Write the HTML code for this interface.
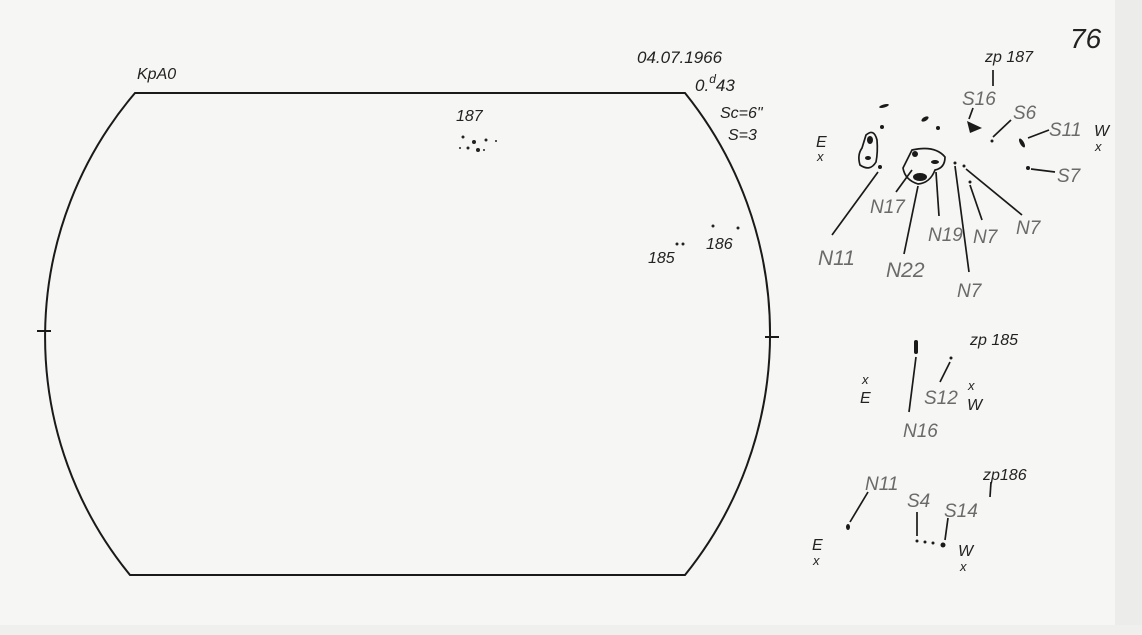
<!DOCTYPE html>
<html><head><style>
html,body{margin:0;padding:0;background:#f6f6f4}
svg{display:block}
text{font-family:"Liberation Sans",sans-serif;font-style:italic}
.k{fill:#222}
.g{fill:#6a6a6a}
</style></head><body>
<svg width="1142" height="635" viewBox="0 0 1142 635">
<rect width="1142" height="635" fill="#f6f6f4"/>
<rect x="1115" y="0" width="27" height="635" fill="#ececea"/>
<rect x="0" y="625" width="1142" height="10" fill="#efefed"/>
<g stroke="#1a1a1a" stroke-width="2" fill="none">
<path d="M135 93 L685 93 A384 384 0 0 1 685 575 L130 575 A376 376 0 0 1 135 93 Z"/>
<line x1="37" y1="331" x2="51" y2="331"/>
<line x1="765" y1="337" x2="779" y2="337"/>
</g>
<text x="137" y="79" class="k" font-size="16">KpA0</text>
<text x="637" y="63" class="k" font-size="17">04.07.1966</text>
<text x="695" y="91" class="k" font-size="17">0.<tspan dy="-8" font-size="12">d</tspan><tspan dy="8">43</tspan></text>
<text x="720" y="118" class="k" font-size="16">Sc=6"</text>
<text x="728" y="140" class="k" font-size="16">S=3</text>
<text x="1070" y="48" class="k" font-size="28" font-style="normal">76</text>
<text x="456" y="121" class="k" font-size="16">187</text>
<text x="648" y="263" class="k" font-size="16">185</text>
<text x="706" y="249" class="k" font-size="16">186</text>
<g fill="#222">
<circle cx="463" cy="137" r="1.5"/><circle cx="474" cy="142" r="2"/><circle cx="468" cy="148" r="1.5"/><circle cx="478" cy="150" r="2"/><circle cx="486" cy="140" r="1.5"/><circle cx="496" cy="141" r="1"/><circle cx="460" cy="148" r="1"/><circle cx="484" cy="150" r="1"/>
<circle cx="677" cy="244" r="1.5"/><circle cx="683" cy="244" r="1.5"/><circle cx="713" cy="226" r="1.5"/><circle cx="738" cy="228" r="1.5"/>
</g>
<g fill="#1a1a1a">
<ellipse cx="884" cy="106" rx="5" ry="1.5" transform="rotate(-15 884 106)"/>
<ellipse cx="925" cy="119" rx="4" ry="2" transform="rotate(-30 925 119)"/>
<circle cx="882" cy="127" r="2"/><circle cx="938" cy="128" r="2"/>
<polygon points="967,121 982,128 970,133"/>
<circle cx="992" cy="141" r="1.5"/>
<ellipse cx="1022" cy="143" rx="2" ry="5" transform="rotate(-30 1022 143)"/>
<circle cx="1028" cy="168" r="2"/>
<circle cx="880" cy="167" r="2"/>
<ellipse cx="870" cy="140" rx="3" ry="4"/><ellipse cx="868" cy="158" rx="3" ry="2"/>
<ellipse cx="915" cy="154" rx="3" ry="3"/><ellipse cx="935" cy="162" rx="4" ry="2"/>
<ellipse cx="920" cy="177" rx="7" ry="4"/>
<circle cx="955" cy="163" r="1.5"/><circle cx="964" cy="166" r="1.5"/><circle cx="970" cy="182" r="1.5"/>
</g>
<g stroke="#1a1a1a" stroke-width="1.7" fill="none">
<path d="M866 135 Q874 128 877 140 Q878 152 876 162 Q870 172 860 165 Q857 155 862 148 Z"/>
<path d="M912 150 Q935 145 945 157 Q945 168 935 170 Q930 183 918 184 Q905 180 903 168 Z"/>
<line x1="993" y1="70" x2="993" y2="86"/>
<line x1="973" y1="108" x2="969" y2="119"/>
<line x1="993" y1="137" x2="1011" y2="120"/>
<line x1="1028" y1="138" x2="1049" y2="130"/>
<line x1="1031" y1="169" x2="1055" y2="172"/>
<line x1="878" y1="172" x2="832" y2="235"/>
<line x1="912" y1="170" x2="896" y2="192"/>
<line x1="918" y1="186" x2="904" y2="254"/>
<line x1="936" y1="172" x2="939" y2="216"/>
<line x1="955" y1="166" x2="969" y2="272"/>
<line x1="970" y1="185" x2="982" y2="220"/>
<line x1="966" y1="169" x2="1022" y2="215"/>
</g>
<g class="g" font-size="19">
<text x="962" y="105">S16</text>
<text x="1013" y="119">S6</text>
<text x="1049" y="136">S11</text>
<text x="1057" y="182">S7</text>
<text x="870" y="213">N17</text>
<text x="928" y="241">N19</text>
<text x="973" y="243">N7</text>
<text x="1016" y="234">N7</text>
<text x="818" y="265" font-size="21">N11</text>
<text x="886" y="277" font-size="21">N22</text>
<text x="957" y="297">N7</text>
<text x="924" y="404">S12</text>
<text x="903" y="437">N16</text>
<text x="865" y="490">N11</text>
<text x="907" y="507">S4</text>
<text x="944" y="517">S14</text>
</g>
<g class="k" font-size="16">
<text x="985" y="62">zp 187</text>
<text x="1094" y="136">W</text><text x="1095" y="151" font-size="13">x</text>
<text x="816" y="147">E</text><text x="817" y="161" font-size="13">x</text>
<text x="970" y="345">zp 185</text>
<text x="968" y="390" font-size="13">x</text><text x="967" y="410">W</text>
<text x="862" y="384" font-size="13">x</text><text x="860" y="403">E</text>
<text x="983" y="480">zp186</text>
<text x="812" y="550">E</text><text x="813" y="565" font-size="13">x</text>
<text x="958" y="556">W</text><text x="960" y="571" font-size="13">x</text>
</g>
<g fill="#1a1a1a">
<rect x="914" y="340" width="4" height="14" rx="2"/>
<circle cx="951" cy="358" r="1.5"/>
<ellipse cx="848" cy="527" rx="2" ry="3"/>
<circle cx="917" cy="541" r="1.5"/><circle cx="925" cy="542" r="1.5"/><circle cx="933" cy="543" r="1.5"/><circle cx="943" cy="545" r="2.5"/>
</g>
<g stroke="#1a1a1a" stroke-width="1.7">
<line x1="916" y1="357" x2="909" y2="412"/>
<line x1="950" y1="362" x2="940" y2="382"/>
<line x1="991" y1="482" x2="990" y2="497"/>
<line x1="850" y1="522" x2="868" y2="492"/>
<line x1="917" y1="512" x2="917" y2="536"/>
<line x1="948" y1="518" x2="945" y2="540"/>
</g>
</svg>
</body></html>
